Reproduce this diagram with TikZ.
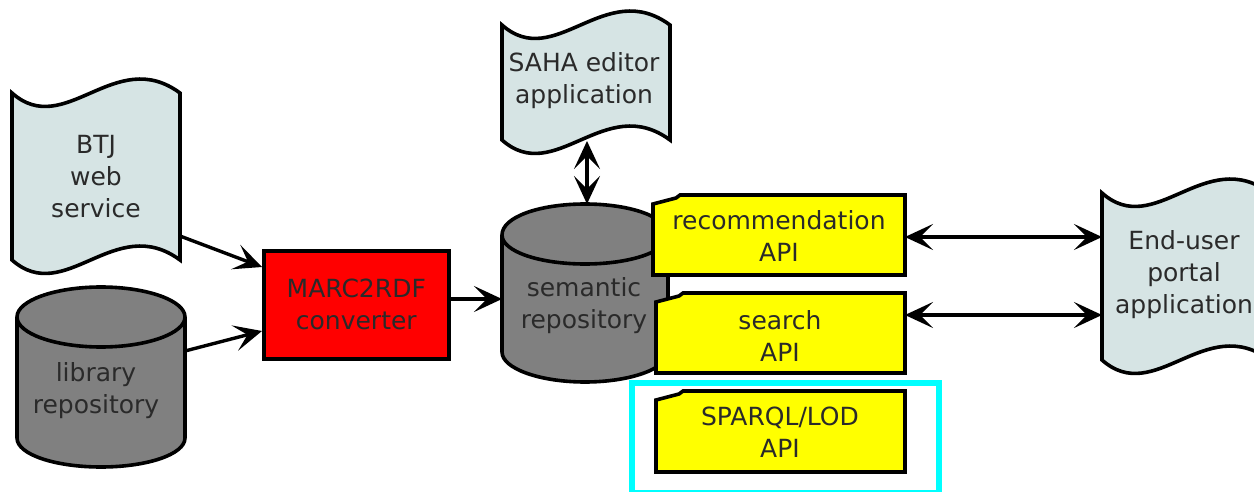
\documentclass[tikz,border=0pt]{standalone}
\usepackage{fontspec}
\setmainfont{DejaVu Sans}
\usetikzlibrary{arrows.meta}
\definecolor{flagfill}{HTML}{D6E4E4}
\definecolor{cylfill}{HTML}{808080}
\definecolor{apifill}{HTML}{FFFF00}
\definecolor{convfill}{HTML}{FF0000}
\definecolor{hilite}{HTML}{00FFFF}
\definecolor{txt}{HTML}{2A2A2A}
\tikzset{
  outline/.style={draw=black, line width=3.6pt, line join=miter},
  flagshape/.style={outline, fill=flagfill},
  cylshape/.style={outline, fill=cylfill},
  apishape/.style={outline, fill=apifill},
  label/.style={text=txt, font=\fontsize{25}{32}\selectfont, align=center, inner sep=0pt},
  conn/.style={line width=3.4pt, -{Stealth[length=28pt, width=26pt, inset=13pt]}},
  biconn/.style={line width=3.4pt, {Stealth[length=28pt, width=26pt, inset=13pt]}-{Stealth[length=28pt, width=26pt, inset=13pt]}},
}
\begin{document}
\begin{tikzpicture}[x=1pt, y=-1pt]
\useasboundingbox (0,0) rectangle (1254,492);

% BTJ web service (flag)
\path[flagshape] (12,93) .. controls (65,140) and (115,45) .. (180,93) -- (180,260)
  .. controls (115,212) and (65,307) .. (12,260) -- cycle;
\node[label] (btj) at (96,177) {BTJ\\web\\service};
\coordinate (btjout) at (180,236);

% library repository (cylinder)
\path[cylshape] (17,317) -- (17,438) .. controls (17,454.6) and (55.4,467) .. (101,467)
  .. controls (146.4,467) and (185,454.6) .. (185,438) -- (185,317)
  .. controls (185,300.4) and (146.4,287) .. (101,287)
  .. controls (55.4,287) and (17,300.4) .. (17,317) -- cycle;
\draw[outline] (17,317) .. controls (17,333.6) and (55.4,347) .. (101,347)
  .. controls (146.4,347) and (185,333.6) .. (185,317);
\node[label] (lib) at (96,391) {library\\repository};
\coordinate (libout) at (185,351);

% MARC2RDF converter
\node[outline, fill=convfill, minimum width=185pt, minimum height=108pt, anchor=north west,
  inner sep=0pt] (marc) at (262,249) {};
\node[label] (marctext) at (marc.center) {MARC2RDF\\converter};
\coordinate (marcin1) at (262,267);
\coordinate (marcin2) at (262,331);
\coordinate (marcout) at (447,299);

% semantic repository (cylinder)
\path[cylshape] (502,235) -- (502,352) .. controls (502,368.6) and (539.9,382) .. (585,382)
  .. controls (630.1,382) and (668,368.6) .. (668,352) -- (668,235)
  .. controls (668,216.8) and (630.1,204) .. (585,204)
  .. controls (539.9,204) and (502,216.8) .. (502,235) -- cycle;
\draw[outline] (502,235) .. controls (502,251.6) and (539.9,264) .. (585,264)
  .. controls (630.1,264) and (668,251.6) .. (668,235);
\node[label] (sem) at (584,306) {semantic\\repository};
\coordinate (semtop) at (587,204);
\coordinate (semin) at (502,299);

% SAHA editor application (flag)
\path[flagshape] (502,25) .. controls (555,72) and (605,-23) .. (670,25) -- (670,140)
  .. controls (605,92) and (555,187) .. (502,140) -- cycle;
\node[label] (saha) at (584,81) {SAHA editor\\application};
\coordinate (sahabot) at (587,141);

% API boxes
\path[apishape] (653,204) -- (653,275) -- (905,275) -- (905,195) -- (680,195) -- (676,198) -- cycle;
\node[label] (rec) at (779,236) {recommendation\\API};
\coordinate (recout) at (905,237);

\path[apishape] (656,302) -- (656,373) -- (905,373) -- (905,293) -- (683,293) -- (679,296) -- cycle;
\node[label] (search) at (780,336) {search\\API};
\coordinate (searchout) at (905,315);

\path[apishape] (656,400) -- (656,472) -- (905,472) -- (905,391) -- (683,391) -- (679,394) -- cycle;
\node[label] (sparql) at (780,432) {SPARQL/LOD\\API};

% highlight
\node[draw=hilite, line width=5.5pt, anchor=north west, minimum width=307pt, minimum height=110pt,
  inner sep=0pt] (hl) at (629,380) {};

% End-user portal application (flag)
\path[flagshape] (1102,193) .. controls (1155,240) and (1205,145) .. (1270,193) -- (1270,360)
  .. controls (1205,312) and (1155,407) .. (1102,360) -- cycle;
\node[label] (portal) at (1184,275) {End-user\\portal\\application};
\coordinate (portin1) at (1102,237);
\coordinate (portin2) at (1102,315);

% connectors
\draw[conn] (btjout) -- (marcin1);
\draw[conn] (libout) -- (marcin2);
\draw[conn] (marcout) -- (semin);
\draw[biconn] (sahabot) -- (semtop);
\draw[biconn] (recout) -- (portin1);
\draw[biconn] (searchout) -- (portin2);
\end{tikzpicture}
\end{document}
